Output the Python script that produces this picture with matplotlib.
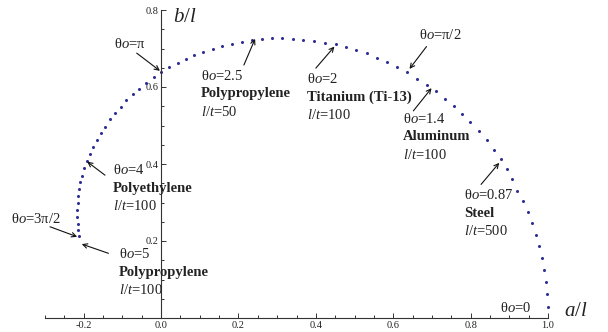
import numpy as np
import matplotlib.pyplot as plt
from matplotlib.ticker import MultipleLocator, FixedLocator, FormatStrFormatter

plt.rcParams['font.family'] = ['Liberation Serif', 'DejaVu Serif']
plt.rcParams['mathtext.fontset'] = 'custom'
plt.rcParams['mathtext.rm'] = 'Liberation Serif'
plt.rcParams['mathtext.it'] = 'Liberation Serif:italic'
plt.rcParams['mathtext.bf'] = 'Liberation Serif:bold'

# tip positions of the deflected beam
a_over_l = [0.999, 0.997, 0.994, 0.990, 0.984, 0.977, 0.969, 0.959, 0.948, 0.935,
            0.921, 0.907, 0.893, 0.878, 0.860, 0.842, 0.821, 0.799, 0.778, 0.758,
            0.734, 0.711, 0.687, 0.662, 0.636, 0.611, 0.585, 0.558, 0.532, 0.505,
            0.477, 0.451, 0.423, 0.395, 0.368, 0.340, 0.313, 0.287, 0.260, 0.235,
            0.209, 0.183, 0.158, 0.133, 0.109, 0.086, 0.064, 0.043, 0.021, 0.000,
            -0.019, -0.038, -0.056, -0.073, -0.090, -0.104, -0.119, -0.132, -0.145, -0.156,
            -0.166, -0.175, -0.183, -0.192, -0.199, -0.204, -0.209, -0.212, -0.214, -0.216,
            -0.217, -0.217, -0.216, -0.215, -0.213]
b_over_l = [0.029, 0.062, 0.093, 0.125, 0.155, 0.186, 0.216, 0.246, 0.275, 0.303,
            0.331, 0.360, 0.387, 0.413, 0.437, 0.462, 0.486, 0.508, 0.531, 0.551,
            0.570, 0.590, 0.606, 0.622, 0.639, 0.652, 0.664, 0.676, 0.688, 0.696,
            0.704, 0.711, 0.715, 0.719, 0.723, 0.725, 0.726, 0.726, 0.724, 0.721,
            0.718, 0.712, 0.706, 0.699, 0.691, 0.684, 0.673, 0.662, 0.651, 0.639,
            0.626, 0.610, 0.595, 0.581, 0.566, 0.549, 0.533, 0.516, 0.497, 0.480,
            0.462, 0.443, 0.425, 0.409, 0.389, 0.370, 0.352, 0.334, 0.317, 0.298,
            0.281, 0.263, 0.244, 0.229, 0.213]

# three-line labels: angle, material, slenderness
block_theta = ['2.5', '2', '1.4', '0.87', '4', '5']
block_material = ['Polypropylene', 'Titanium (Ti-13)', 'Aluminum', 'Steel',
                  'Polyethylene', 'Polypropylene']
block_lt = ['50', '100', '100', '500', '100', '100']
block_pos = [(0.102, 0.629), (0.376, 0.621), (0.624, 0.517), (0.783, 0.319),
             (-0.124, 0.384), (-0.109, 0.166)]

# single-line labels
single_theta = ['\u03c0', '\u03c0/2', '3\u03c0/2', '0']
single_pos = [(-0.082, 0.712), (0.721, 0.735), (-0.323, 0.257), (0.917, 0.026)]

# arrows (tail, head)
arrows = [((-0.063, 0.688), (-0.003, 0.642)),
          ((0.214, 0.657), (0.243, 0.725)),
          ((0.400, 0.649), (0.448, 0.705)),
          ((0.686, 0.705), (0.642, 0.647)),
          ((0.652, 0.538), (0.699, 0.597)),
          ((0.827, 0.347), (0.874, 0.403)),
          ((-0.145, 0.371), (-0.191, 0.406)),
          ((-0.287, 0.237), (-0.217, 0.211)),
          ((-0.136, 0.168), (-0.205, 0.192))]

fig = plt.figure(figsize=(6.08, 3.32), dpi=100)
ax = fig.add_axes([45 / 608, 14 / 332, 503 / 608, 308 / 332])
ax.set_xlim(-0.3, 1.0)
ax.set_ylim(0, 0.8)

ax.plot(a_over_l, b_over_l, 'o', ms=2.2, color='#2e2e96', mec='none', clip_on=False)

axcol = '#333333'
txtcol = '#222222'
for s in ['top', 'right']:
    ax.spines[s].set_visible(False)
ax.spines['left'].set_position(('data', 0))
ax.spines['bottom'].set_position(('data', 0))
for s in ['left', 'bottom']:
    ax.spines[s].set_color(axcol)
    ax.spines[s].set_linewidth(0.8)
ax.spines['bottom'].set_bounds(-0.3, 1.0)
ax.spines['left'].set_bounds(0, 0.8)

ax.xaxis.set_major_locator(FixedLocator([-0.2, 0.0, 0.2, 0.4, 0.6, 0.8, 1.0]))
ax.xaxis.set_minor_locator(MultipleLocator(0.05))
ax.yaxis.set_major_locator(FixedLocator([0.2, 0.4, 0.6, 0.8]))
ax.yaxis.set_minor_locator(MultipleLocator(0.05))
ax.xaxis.set_major_formatter(FormatStrFormatter('%.1f'))
ax.yaxis.set_major_formatter(FormatStrFormatter('%.1f'))
ax.tick_params(which='both', direction='in', colors=axcol, labelcolor=txtcol,
               labelsize=7.5, width=0.7)
ax.tick_params(which='major', length=3.5)
ax.tick_params(which='minor', length=2)
ax.tick_params(axis='x', pad=2.5)
ax.tick_params(axis='y', pad=1.5)
ax.set_facecolor('none')

fs = 10.5
dy = 18 / 385
for th, mat, lt, (x, y) in zip(block_theta, block_material, block_lt, block_pos):
    ax.text(x, y, '\u03b8$o$=' + th, fontsize=fs, color=txtcol, ha='left', va='center')
    ax.text(x, y - dy, mat, fontsize=fs, color=txtcol, ha='left', va='center',
            fontweight='bold')
    ax.text(x, y - 2 * dy, '$l/t$=' + lt, fontsize=fs, color=txtcol, ha='left',
            va='center')

for th, (x, y) in zip(single_theta, single_pos):
    ax.text(x, y, '\u03b8$o$=' + th, fontsize=fs, color=txtcol, ha='center',
            va='center', clip_on=False)

for tail, head in arrows:
    ax.annotate('', xy=head, xytext=tail,
                arrowprops=dict(arrowstyle='->', color='#111111', lw=0.8,
                                shrinkA=0, shrinkB=0, mutation_scale=8))

ax.text(0.060, 0.781, '$b/l$', fontsize=15, color=txtcol, ha='center', va='center')
ax.text(1.072, 0.016, '$a/l$', fontsize=15, color=txtcol, ha='center', va='center',
        clip_on=False)

fig.savefig('out.png', dpi=100)
